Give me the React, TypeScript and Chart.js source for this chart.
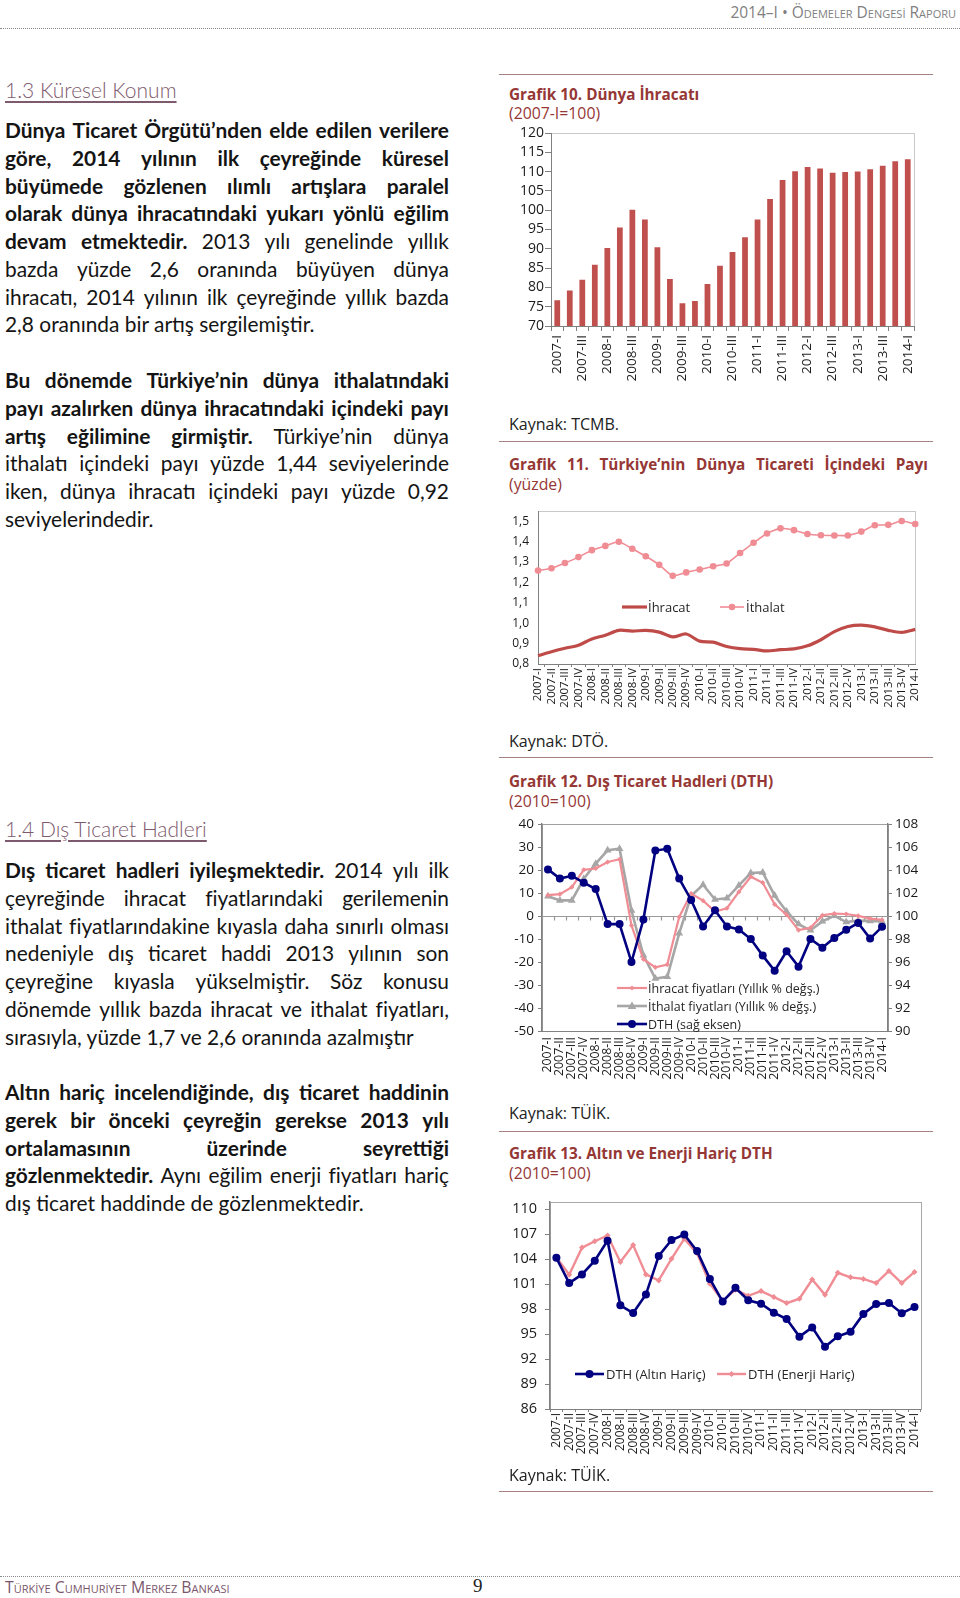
import React, { useEffect, useRef } from 'react';
import { Chart, registerables } from 'chart.js';

Chart.register(...registerables);

// ---------------- DATA ----------------
const QUARTERS = [
  '2007-I', '2007-II', '2007-III', '2007-IV',
  '2008-I', '2008-II', '2008-III', '2008-IV',
  '2009-I', '2009-II', '2009-III', '2009-IV',
  '2010-I', '2010-II', '2010-III', '2010-IV',
  '2011-I', '2011-II', '2011-III', '2011-IV',
  '2012-I', '2012-II', '2012-III', '2012-IV',
  '2013-I', '2013-II', '2013-III', '2013-IV',
  '2014-I',
];

// Grafik 10. Dünya İhracatı (2007-I=100)
const WORLD_EXPORTS = [
  76.7, 79.2, 82.0, 85.9, 90.2, 95.5, 100.1, 97.6, 90.4, 82.2, 75.9, 76.5,
  80.9, 85.6, 89.2, 93.0, 97.6, 102.9, 107.8, 110.1, 111.2, 110.8, 109.7,
  109.9, 110.0, 110.6, 111.5, 112.7, 113.2,
];
const EXPORT_TICKS = [70, 75, 80, 85, 90, 95, 100, 105, 110, 115, 120];

// Grafik 11. Türkiye'nin Dünya Ticareti İçindeki Payı (yüzde)
const SHARE_EXPORTS = [
  0.840, 0.860, 0.877, 0.892, 0.923, 0.941, 0.965, 0.961, 0.965, 0.956, 0.933,
  0.947, 0.912, 0.907, 0.886, 0.875, 0.872, 0.864, 0.870, 0.874, 0.889, 0.919,
  0.959, 0.984, 0.991, 0.982, 0.965, 0.955, 0.970,
];
const SHARE_IMPORTS = [
  1.258, 1.269, 1.295, 1.324, 1.358, 1.379, 1.399, 1.365, 1.328, 1.286, 1.232,
  1.249, 1.263, 1.279, 1.293, 1.344, 1.394, 1.440, 1.465, 1.456, 1.437, 1.431,
  1.430, 1.430, 1.449, 1.480, 1.482, 1.501, 1.486,
];
const SHARE_TICKS = [0.8, 0.9, 1.0, 1.1, 1.2, 1.3, 1.4, 1.5];

// Grafik 12. Dış Ticaret Hadleri (DTH)
const EXPORT_PRICES = [
  9.1, 9.5, 12.6, 20.1, 20.7, 23.5, 24.7, -4.1, -18.8, -22.3, -21.1, -0.4,
  9.8, 6.7, 2.0, 3.4, 10.5, 17.1, 14.5, 5.1, 0.6, -6.1, -5.1, 0.3, 1.1, 0.9,
  0.1, -1.1, -1.7,
];
const IMPORT_PRICES = [
  8.6, 6.8, 6.8, 16.2, 22.8, 28.6, 29.3, 2.4, -17.1, -27.2, -26.4, -7.5, 8.8,
  13.6, 7.2, 7.7, 13.3, 18.7, 19.0, 8.9, 2.0, -3.5, -6.2, -2.3, 0.1, -2.6,
  -2.0, -2.1, -2.4,
];
const TOT = [
  104.06, 103.26, 103.5, 102.9, 102.35, 99.3, 99.3, 96.0, 99.7, 105.7, 105.85,
  103.26, 101.4, 99.1, 100.5, 99.1, 98.84, 98.0, 96.56, 95.24, 96.94, 95.6,
  98.0, 97.25, 98.1, 98.8, 99.4, 98.04, 99.06,
];
const PRICE_TICKS = [-50, -40, -30, -20, -10, 0, 10, 20, 30, 40];
const TOT_TICKS = [90, 92, 94, 96, 98, 100, 102, 104, 106, 108];

// Grafik 13. Altın ve Enerji Hariç DTH
const TOT_EX_GOLD = [
  104.17, 101.14, 102.18, 103.83, 106.24, 98.46, 97.54, 99.76, 104.4, 106.32,
  106.97, 104.98, 101.64, 98.92, 100.57, 99.07, 98.65, 97.58, 96.81, 94.7,
  95.81, 93.47, 94.74, 95.28, 97.42, 98.61, 98.73, 97.5, 98.27,
];
const TOT_EX_ENERGY = [
  104.25, 102.14, 105.4, 106.17, 106.86, 103.67, 105.71, 102.18, 101.45,
  104.06, 106.47, 104.71, 101.07, 99.0, 100.34, 99.61, 100.18, 99.46, 98.73,
  99.26, 101.56, 99.72, 102.37, 101.83, 101.64, 101.14, 102.6, 101.14, 102.48,
];
const TOT13_TICKS = [86, 89, 92, 95, 98, 101, 104, 107, 110];

// ---------------- STYLE ----------------
const CF = "'Open Sans', 'Noto Sans', sans-serif";
const TF = "Lato, 'Open Sans', sans-serif";
const AXIS = '#808080';
const RED = '#C0504D';
const PINK = '#F08C94';
const GRAY = '#A6A6A6';
const NAVY = '#000080';
const TITLE = '#953735';
const RULE = '#a67f80';

function drawMarker(ctx: CanvasRenderingContext2D, style: string, x: number, y: number, r: number, color: string) {
  ctx.fillStyle = color;
  ctx.beginPath();
  if (style === 'circle') ctx.arc(x, y, r, 0, Math.PI * 2);
  else if (style === 'triangle') {
    ctx.moveTo(x, y - r);
    ctx.lineTo(x + r * 0.95, y + r * 0.65);
    ctx.lineTo(x - r * 0.95, y + r * 0.65);
    ctx.closePath();
  } else {
    ctx.moveTo(x, y - r);
    ctx.lineTo(x + r, y);
    ctx.lineTo(x, y + r);
    ctx.lineTo(x - r, y);
    ctx.closePath();
  }
  ctx.fill();
}

const framePlugin = {
  id: 'frame',
  beforeDraw(chart: any, _a: any, opts: any) {
    if (!opts || !opts.color) return;
    const { left, top, right, bottom } = chart.chartArea;
    const ctx = chart.ctx;
    ctx.save();
    ctx.strokeStyle = opts.color;
    ctx.lineWidth = 1;
    ctx.strokeRect(Math.round(left) + 0.5, Math.round(top) + 0.5, Math.round(right - left), Math.round(bottom - top));
    ctx.restore();
  },
};

const zeroPlugin = {
  id: 'zeroline',
  beforeDatasetsDraw(chart: any, _a: any, opts: any) {
    if (!opts || !opts.enabled) return;
    const x = chart.scales.x;
    const y = chart.scales.y;
    const y0 = Math.round(y.getPixelForValue(0)) + 0.5;
    const n = chart.data.labels.length;
    const w = (x.right - x.left) / n;
    const ctx = chart.ctx;
    ctx.save();
    ctx.strokeStyle = '#9a9a9a';
    ctx.lineWidth = 1.2;
    ctx.beginPath();
    ctx.moveTo(x.left, y0);
    ctx.lineTo(x.right, y0);
    for (let i = 0; i <= n; i++) {
      const px = Math.round(x.left + i * w) + 0.5;
      ctx.moveTo(px, y0);
      ctx.lineTo(px, y0 + 4);
    }
    ctx.stroke();
    ctx.restore();
  },
};

const legendPlugin = {
  id: 'inlegend',
  afterDatasetsDraw(chart: any, _a: any, opts: any) {
    if (!opts || !opts.items) return;
    const ctx = chart.ctx;
    ctx.save();
    for (const it of opts.items) {
      ctx.strokeStyle = it.color;
      ctx.lineWidth = it.lineWidth;
      ctx.beginPath();
      ctx.moveTo(it.x1, it.y);
      ctx.lineTo(it.x2, it.y);
      ctx.stroke();
      if (it.point) drawMarker(ctx, it.point, (it.x1 + it.x2) / 2, it.y, it.r, it.color);
      ctx.fillStyle = '#262626';
      ctx.font = opts.font;
      ctx.textBaseline = 'middle';
      ctx.textAlign = 'left';
      ctx.fillText(it.text, it.tx, it.y + 1);
    }
    ctx.restore();
  },
};

const basePlugins = {
  legend: { display: false },
  tooltip: { enabled: false },
};

function xRotated(size: number, tickLength: number, padding: number, height: number, drawTicks = true, onlyEven = false, offset = true) {
  return {
    offset,
    grid: { display: true, drawOnChartArea: false, drawTicks, tickLength, color: AXIS, offset: true },
    border: { display: true, color: AXIS, width: 1 },
    ticks: {
      autoSkip: false,
      maxRotation: 90,
      minRotation: 90,
      padding,
      color: '#1a1a1a',
      font: { family: CF, size: size },
      callback: (_v: any, i: number) => (onlyEven ? (i % 2 === 0 ? QUARTERS[i] : '') : QUARTERS[i]),
    },
    afterFit: (s: any) => { s.height = height; },
  };
}

function fixedTicks(list: number[]) {
  return (s: any) => { s.ticks = list.map((v) => ({ value: v })); };
}

// ---------------- CHART CONFIGS ----------------
const chart10 = () => ({
  type: 'bar',
  data: {
    labels: QUARTERS,
    datasets: [{ data: WORLD_EXPORTS, backgroundColor: RED, categoryPercentage: 1, barPercentage: 0.46 }],
  },
  options: {
    animation: false,
    responsive: false,
    layout: { padding: { top: 13, right: 16, left: 0, bottom: 0 } },
    plugins: { ...basePlugins, frame: { color: '#c9c9c9' } },
    scales: {
      x: xRotated(13.5, 5, 4, 70, true, true, true),
      y: {
        min: 70,
        max: 120,
        afterBuildTicks: fixedTicks(EXPORT_TICKS),
        grid: { display: true, drawOnChartArea: false, tickLength: 6, color: AXIS },
        border: { display: true, color: AXIS },
        ticks: { autoSkip: false, padding: 1, color: '#1a1a1a', font: { family: CF, size: 14 } },
        afterFit: (s: any) => { s.width = 51; },
      },
    },
  },
  plugins: [framePlugin],
});

const chart11 = () => ({
  type: 'line',
  data: {
    labels: QUARTERS,
    datasets: [
      { data: SHARE_EXPORTS, borderColor: '#BE4B48', borderWidth: 3.2, pointRadius: 0, tension: 0.3 },
      { data: SHARE_IMPORTS, borderColor: PINK, backgroundColor: PINK, borderWidth: 1.6, pointRadius: 3.3, pointBackgroundColor: PINK, pointBorderWidth: 0, tension: 0.2 },
    ],
  },
  options: {
    animation: false,
    responsive: false,
    layout: { padding: { top: 6, right: 11, left: 0, bottom: 0 } },
    plugins: {
      ...basePlugins,
      frame: { color: '#c9c9c9' },
      inlegend: {
        font: `13px ${CF}`,
        items: [
          { x1: 122, x2: 147, y: 112, color: '#BE4B48', lineWidth: 3.2, text: 'İhracat', tx: 148 },
          { x1: 220, x2: 244, y: 112, color: PINK, lineWidth: 1.6, point: 'circle', r: 3.3, text: 'İthalat', tx: 246 },
        ],
      },
    },
    scales: {
      x: xRotated(11.5, 3, 1, 53, true, false, false),
      y: {
        min: 0.8,
        max: 1.549,
        afterBuildTicks: fixedTicks(SHARE_TICKS),
        grid: { display: true, drawOnChartArea: false, drawTicks: false, color: AXIS },
        border: { display: true, color: AXIS },
        ticks: {
          autoSkip: false,
          padding: 9,
          color: '#1a1a1a',
          font: { family: CF, size: 12 },
          callback: (v: any) => Number(v).toFixed(1).replace('.', ','),
        },
        afterFit: (s: any) => { s.width = 38; },
      },
    },
  },
  plugins: [framePlugin, legendPlugin],
});

const chart12 = () => ({
  type: 'line',
  data: {
    labels: QUARTERS,
    datasets: [
      { data: TOT, yAxisID: 'y1', borderColor: NAVY, backgroundColor: NAVY, borderWidth: 2.6, pointRadius: 4, pointBackgroundColor: NAVY, pointBorderWidth: 0, tension: 0 },
      { data: EXPORT_PRICES, yAxisID: 'y', borderColor: PINK, backgroundColor: PINK, borderWidth: 2.2, pointStyle: 'rectRot', pointRadius: 2.6, pointBackgroundColor: PINK, pointBorderWidth: 0, tension: 0 },
      { data: IMPORT_PRICES, yAxisID: 'y', borderColor: GRAY, backgroundColor: GRAY, borderWidth: 2.6, pointStyle: 'triangle', pointRadius: 4.5, pointBackgroundColor: GRAY, pointBorderWidth: 0, tension: 0 },
    ],
  },
  options: {
    animation: false,
    responsive: false,
    layout: { padding: { top: 7, right: 0, left: 0, bottom: 0 } },
    plugins: {
      ...basePlugins,
      frame: { color: '#a0a0a0' },
      zeroline: { enabled: true },
      inlegend: {
        font: `12.5px ${CF}`,
        items: [
          { x1: 117, x2: 147, y: 176, color: PINK, lineWidth: 2.2, point: 'diamond', r: 2.6, text: 'İhracat fiyatları (Yıllık % değş.)', tx: 148 },
          { x1: 117, x2: 147, y: 194, color: GRAY, lineWidth: 2.6, point: 'triangle', r: 4.5, text: 'İthalat fiyatları (Yıllık % değş.)', tx: 148 },
          { x1: 117, x2: 147, y: 212, color: NAVY, lineWidth: 2.6, point: 'circle', r: 4, text: 'DTH (sağ eksen)', tx: 148 },
        ],
      },
    },
    scales: {
      x: xRotated(12.3, 0, 6, 63, false, false, true),
      y: {
        position: 'left',
        min: -50,
        max: 40,
        afterBuildTicks: fixedTicks(PRICE_TICKS),
        grid: { display: true, drawOnChartArea: false, tickLength: 4, color: AXIS },
        border: { display: true, color: AXIS, width: 1.4 },
        ticks: { autoSkip: false, padding: 4, color: '#1a1a1a', font: { family: CF, size: 13.5 } },
        afterFit: (s: any) => { s.width = 42; },
      },
      y1: {
        position: 'right',
        min: 90,
        max: 108,
        afterBuildTicks: fixedTicks(TOT_TICKS),
        grid: { display: true, drawOnChartArea: false, tickLength: 4, color: AXIS },
        border: { display: true, color: AXIS, width: 1.4 },
        ticks: { autoSkip: false, padding: 3, color: '#1a1a1a', font: { family: CF, size: 13.5 } },
        afterFit: (s: any) => { s.width = 47; },
      },
    },
  },
  plugins: [framePlugin, zeroPlugin, legendPlugin],
});

const chart13 = () => ({
  type: 'line',
  data: {
    labels: QUARTERS,
    datasets: [
      { data: TOT_EX_GOLD, borderColor: NAVY, backgroundColor: NAVY, borderWidth: 2.6, pointRadius: 4, pointBackgroundColor: NAVY, pointBorderWidth: 0, tension: 0 },
      { data: TOT_EX_ENERGY, borderColor: PINK, backgroundColor: PINK, borderWidth: 2.4, pointStyle: 'rectRot', pointRadius: 3, pointBackgroundColor: PINK, pointBorderWidth: 0, tension: 0 },
    ],
  },
  options: {
    animation: false,
    responsive: false,
    layout: { padding: { top: 7, right: 4, left: 0, bottom: 0 } },
    plugins: {
      ...basePlugins,
      frame: { color: '#a8a8a8' },
      inlegend: {
        font: `13px ${CF}`,
        items: [
          { x1: 75, x2: 104, y: 189, color: NAVY, lineWidth: 2.6, point: 'circle', r: 4, text: 'DTH (Altın Hariç)', tx: 106 },
          { x1: 217, x2: 246, y: 189, color: PINK, lineWidth: 2.4, point: 'diamond', r: 3, text: 'DTH (Enerji Hariç)', tx: 248 },
        ],
      },
    },
    scales: {
      x: xRotated(12, 3, 1, 58, true, false, true),
      y: {
        min: 86,
        max: 110.92,
        afterBuildTicks: fixedTicks(TOT13_TICKS),
        grid: { display: true, drawOnChartArea: false, tickLength: 5, color: AXIS },
        border: { display: true, color: AXIS, width: 1.4 },
        ticks: { autoSkip: false, padding: 8, color: '#1a1a1a', font: { family: CF, size: 14.5 } },
        afterFit: (s: any) => { s.width = 50; },
      },
    },
  },
  plugins: [framePlugin, legendPlugin],
});

// ---------------- COMPONENTS ----------------
function ChartBox({ left, top, width, height, make }: any) {
  const ref = useRef<HTMLCanvasElement>(null);
  useEffect(() => {
    const c = new Chart(ref.current as HTMLCanvasElement, make() as any);
    return () => c.destroy();
  }, []);
  return (
    <div style={{ position: 'absolute', left, top, width, height }}>
      <canvas ref={ref} width={width} height={height} style={{ width, height, display: 'block' }} />
    </div>
  );
}

const LH = 27.75;

function parseWords(text: string) {
  const parts = text.split('**');
  const words: { w: string; b: boolean }[] = [];
  parts.forEach((p, i) => {
    p.split(' ').filter((x) => x.length).forEach((w) => words.push({ w, b: i % 2 === 1 }));
  });
  return words;
}

function TextLine({ text, last }: { text: string; last?: boolean }) {
  const words = parseWords(text);
  if (last) {
    return (
      <div style={{ height: LH, whiteSpace: 'nowrap' }}>
        {words.map((t, i) => (
          <span key={i} style={{ fontWeight: t.b ? 700 : 400 }}>{(i ? ' ' : '') + t.w}</span>
        ))}
      </div>
    );
  }
  return (
    <div style={{ height: LH, display: 'flex', justifyContent: 'space-between', whiteSpace: 'nowrap' }}>
      {words.map((t, i) => (
        <span key={i} style={{ fontWeight: t.b ? 700 : 400 }}>{t.w}</span>
      ))}
    </div>
  );
}

function Para({ lines, top }: { lines: string[]; top: number }) {
  return (
    <div style={{ position: 'absolute', left: 5, top, width: 444, fontFamily: TF, fontSize: 20.9, lineHeight: `${LH}px`, color: '#141414' }}>
      {lines.map((l, i) => <TextLine key={i} text={l} last={i === lines.length - 1} />)}
    </div>
  );
}

const P1 = [
  '**Dünya Ticaret Örgütü’nden elde edilen verilere**',
  '**göre, 2014 yılının ilk çeyreğinde küresel**',
  '**büyümede gözlenen ılımlı artışlara paralel**',
  '**olarak dünya ihracatındaki yukarı yönlü eğilim**',
  '**devam etmektedir.** 2013 yılı genelinde yıllık',
  'bazda yüzde 2,6 oranında büyüyen dünya',
  'ihracatı, 2014 yılının ilk çeyreğinde yıllık bazda',
  '2,8 oranında bir artış sergilemiştir.',
];
const P2 = [
  '**Bu dönemde Türkiye’nin dünya ithalatındaki**',
  '**payı azalırken dünya ihracatındaki içindeki payı**',
  '**artış eğilimine girmiştir.** Türkiye’nin dünya',
  'ithalatı içindeki payı yüzde 1,44 seviyelerinde',
  'iken, dünya ihracatı içindeki payı yüzde 0,92',
  'seviyelerindedir.',
];
const P3 = [
  '**Dış ticaret hadleri iyileşmektedir.** 2014 yılı ilk',
  'çeyreğinde ihracat fiyatlarındaki gerilemenin',
  'ithalat fiyatlarındakine kıyasla daha sınırlı olması',
  'nedeniyle dış ticaret haddi 2013 yılının son',
  'çeyreğine kıyasla yükselmiştir. Söz konusu',
  'dönemde yıllık bazda ihracat ve ithalat fiyatları,',
  'sırasıyla, yüzde 1,7 ve 2,6 oranında azalmıştır',
];
const P4 = [
  '**Altın hariç incelendiğinde, dış ticaret haddinin**',
  '**gerek bir önceki çeyreğin gerekse 2013 yılı**',
  '**ortalamasının üzerinde seyrettiği**',
  '**gözlenmektedir.** Aynı eğilim enerji fiyatları hariç',
  'dış ticaret haddinde de gözlenmektedir.',
];

function Heading({ text, top }: { text: string; top: number }) {
  return (
    <div style={{ position: 'absolute', left: 5, top, fontFamily: TF, fontSize: 21, fontWeight: 300, lineHeight: '24px', color: '#7d5a6d', textDecoration: 'underline', textUnderlineOffset: 3, whiteSpace: 'nowrap' }}>
      {text}
    </div>
  );
}

function Rule({ top }: { top: number }) {
  return <div style={{ position: 'absolute', left: 499, top, width: 434, height: 0, borderTop: `1.5px solid ${RULE}` }} />;
}

function RText({ text, top, bold, size, color, justify }: any) {
  const style: any = {
    position: 'absolute', left: 509, top, fontFamily: CF, fontSize: size, lineHeight: '18px',
    fontWeight: bold ? 700 : 400, color, whiteSpace: 'nowrap',
  };
  if (justify) {
    return (
      <div style={{ ...style, width: 419, display: 'flex', justifyContent: 'space-between' }}>
        {text.split(' ').map((w: string, i: number) => <span key={i}>{w}</span>)}
      </div>
    );
  }
  return <div style={style}>{text}</div>;
}

export default function App() {
  return (
    <div lang="tr" style={{ position: 'absolute', left: 0, top: 0, width: 960, height: 1598, overflow: 'hidden', background: '#fff' }}>
      {/* header */}
      <div style={{ position: 'absolute', right: 4, top: 2, fontFamily: CF, fontSize: 15.5, lineHeight: '20px', color: '#7f7f7f', fontVariant: 'small-caps', whiteSpace: 'nowrap' }}>
        2014–I • Ödemeler Dengesi Raporu
      </div>
      <div style={{ position: 'absolute', left: 0, top: 28, width: 960, height: 0, borderTop: '1px dotted #8a8a8a' }} />

      {/* left column */}
      <Heading text="1.3 Küresel Konum" top={78} />
      <Para lines={P1} top={116} />
      <Para lines={P2} top={366} />
      <Heading text="1.4 Dış Ticaret Hadleri" top={817} />
      <Para lines={P3} top={856} />
      <Para lines={P4} top={1078} />

      {/* right column */}
      <Rule top={74} />
      <RText text="Grafik 10. Dünya İhracatı" top={85} bold size={15.3} color={TITLE} />
      <RText text="(2007-I=100)" top={104} size={15.8} color={TITLE} />
      <ChartBox left={500} top={120} width={430} height={276} make={chart10} />
      <RText text="Kaynak: TCMB." top={415} size={16} color="#222" />

      <Rule top={441} />
      <RText text="Grafik 11. Türkiye’nin Dünya Ticareti İçindeki Payı" top={455} bold size={15.3} color={TITLE} justify />
      <RText text="(yüzde)" top={475} size={15.8} color={TITLE} />
      <ChartBox left={500} top={495} width={430} height={222} make={chart11} />
      <RText text="Kaynak: DTÖ." top={732} size={16} color="#222" />

      <Rule top={757} />
      <RText text="Grafik 12. Dış Ticaret Hadleri (DTH)" top={772} bold size={15.3} color={TITLE} />
      <RText text="(2010=100)" top={792} size={15.8} color={TITLE} />
      <ChartBox left={500} top={812} width={435} height={282} make={chart12} />
      <RText text="Kaynak: TÜİK." top={1104} size={16} color="#222" />

      <Rule top={1131} />
      <RText text="Grafik 13. Altın ve Enerji Hariç DTH" top={1144} bold size={15.3} color={TITLE} />
      <RText text="(2010=100)" top={1164} size={15.8} color={TITLE} />
      <ChartBox left={500} top={1185} width={430} height={282} make={chart13} />
      <RText text="Kaynak: TÜİK." top={1466} size={16} color="#222" />
      <Rule top={1491} />

      {/* footer */}
      <div style={{ position: 'absolute', left: 0, top: 1576, width: 960, height: 0, borderTop: '1px dotted #8a8a8a' }} />
      <div style={{ position: 'absolute', left: 5, top: 1577, fontFamily: CF, fontSize: 15.8, lineHeight: '20px', color: '#7a566c', fontVariant: 'small-caps', whiteSpace: 'nowrap' }}>
        Türkiye Cumhuriyet Merkez Bankası
      </div>
      <div style={{ position: 'absolute', left: 473, top: 1575, fontFamily: "'Liberation Serif', 'DejaVu Serif', serif", fontSize: 19, lineHeight: '22px', color: '#222' }}>
        9
      </div>
    </div>
  );
}
